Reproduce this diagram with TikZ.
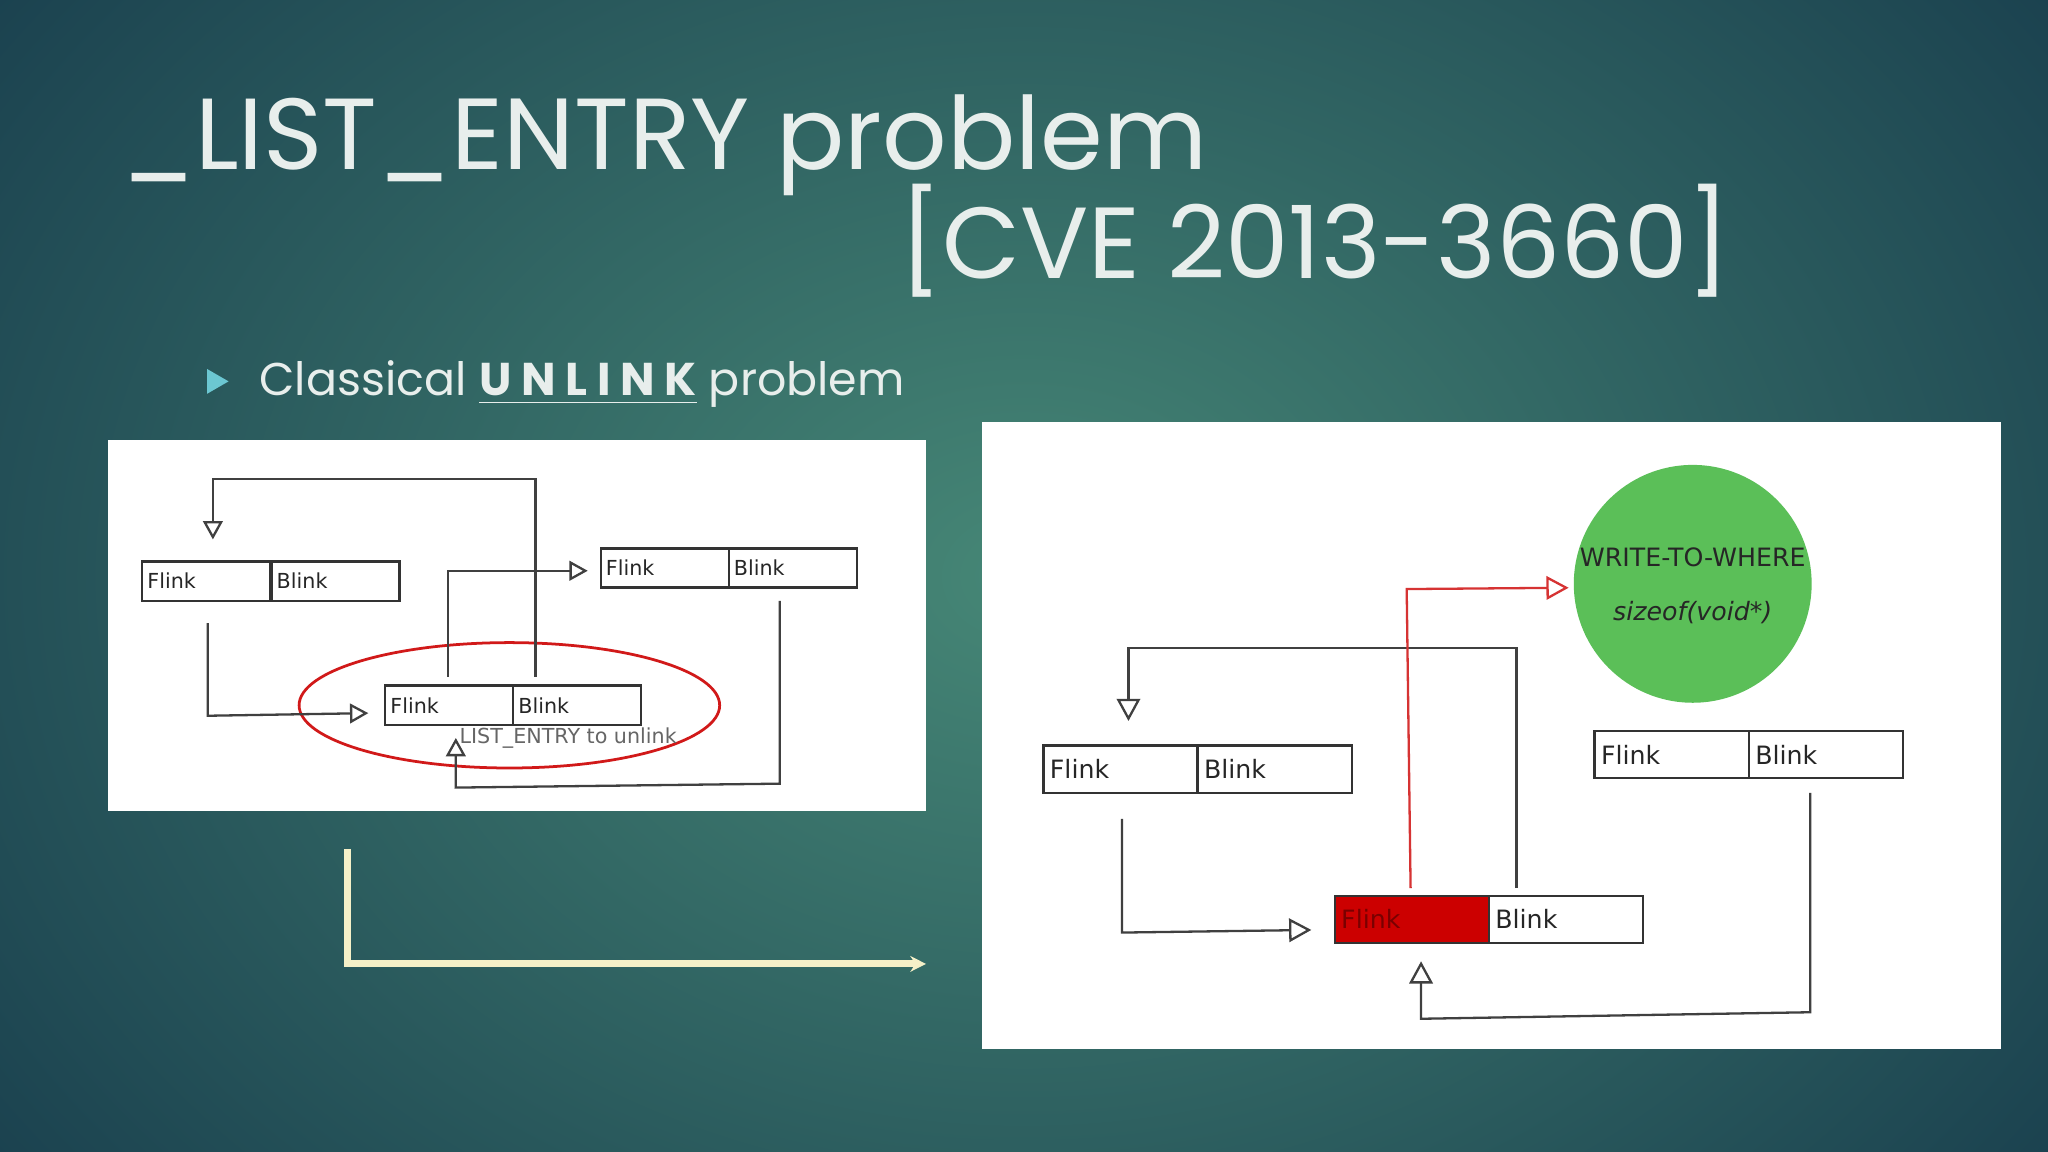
\documentclass[tikz,border=0pt]{standalone}
\usepackage{fontspec}
\setmainfont{Poppins}
\newfontfamily\boxfont{DejaVu Sans}
\usetikzlibrary{arrows.meta,shapes.geometric}
\definecolor{ttl}{HTML}{E8EEEC}
\definecolor{cyanb}{HTML}{6CC7D2}
\definecolor{grn}{HTML}{5BBF58}
\definecolor{redb}{HTML}{CC0000}
\tikzset{
  cell/.style={draw=black!80,line width=0.5pt,minimum width=0.98cm,minimum height=0.30cm,inner sep=0pt,font=\boxfont\fontsize{4.5pt}{5pt}\selectfont,text=black!85},
  cellb/.style={cell,minimum width=1.18cm,minimum height=0.36cm,font=\boxfont\fontsize{5.5pt}{6pt}\selectfont},
  wire/.style={draw=black!75,line width=0.5pt},
  tri/.style={-{Triangle[open,length=0.14cm,width=0.15cm]}},
  trib/.style={-{Triangle[open,length=0.17cm,width=0.18cm]}},
}
\begin{document}
\begin{tikzpicture}[x=0.01cm,y=-0.01cm]
\useasboundingbox (0,0) rectangle (1568,882);
\shade[inner color={rgb,255:red,70;green,135;blue,118},outer color={rgb,255:red,22;green,58;blue,75}] (-300,-400) rectangle (1868,1282);
% title
\node[anchor=base west,text=ttl,font=\fontsize{22pt}{24pt}\selectfont,inner sep=0] (t1) at (92,130) {\_LIST\_ENTRY problem};
\node[anchor=base west,text=ttl,font=\fontsize{22pt}{24pt}\selectfont,inner sep=0] (t2) at (688,213) {[CVE 2013-3660]};
\node[fill=cyanb,regular polygon,regular polygon sides=3,shape border rotate=-90,minimum size=0.22cm,inner sep=0] (bul) at (164,292) {};
\node[anchor=base west,text=ttl,font=\fontsize{10pt}{12pt}\selectfont,inner sep=0] (t3) at (198,303) {Classical \underline{\textbf{U N L I N K}} problem};
% panels
\fill[white] (83,337) rectangle (709,621);
\fill[white] (752,323) rectangle (1532,803);
% left panel
\node[cell,anchor=north west,text width=0.9cm,align=left] (lf1) at (108,429) {Flink};
\node[cell,anchor=north west,text width=0.9cm,align=left] (lb1) at (207,429) {Blink};
\node[cell,anchor=north west,text width=0.9cm,align=left] (lf2) at (459,419) {Flink};
\node[cell,anchor=north west,text width=0.9cm,align=left] (lb2) at (557,419) {Blink};
\node[cell,anchor=north west,text width=0.9cm,align=left] (lf3) at (294,524) {Flink};
\node[cell,anchor=north west,text width=0.9cm,align=left] (lb3) at (392,524) {Blink};
\draw[redb!90,line width=0.6pt] (390,540) ellipse [x radius=161,y radius=48];
\node[font=\boxfont\fontsize{4.5pt}{5pt}\selectfont,text=black!60] (lbl) at (435,565) {LIST\_ENTRY to unlink};
\coordinate (a1) at (410,518);
\draw[wire,tri] (a1) -- (410,367) -- (163,367) -- (163,413);
\coordinate (a2) at (159,477);
\draw[wire,tri] (a2) -- (159,548) -- (282,546);
\coordinate (a3) at (343,518);
\draw[wire,tri] (a3) -- (343,437) -- (450,437);
\coordinate (a4) at (597,460);
\draw[wire,tri] (a4) -- (597,600) -- (349,603) -- (349,565);
% big arrow
\coordinate (b1) at (266,650);
\coordinate (b2) at (709,738);
\draw[draw={rgb,255:red,245;green,240;blue,200},line width=1.5pt,-{Stealth[length=0.12cm,width=0.12cm]}] (b1) -- (266,738) -- (b2);
% right panel
\node[fill=grn,circle,minimum size=1.82cm,inner sep=0] (g) at (1296,447) {};
\node[font=\boxfont\fontsize{5.5pt}{6pt}\selectfont,text=black!85] (w1) at (1296,427) {WRITE-TO-WHERE};
\node[font=\boxfont\itshape\fontsize{5.5pt}{6pt}\selectfont,text=black!85] (w2) at (1296,469) {sizeof(void*)};
\node[cellb,anchor=north west,text width=1.08cm,align=left] (rf1) at (798,570) {Flink};
\node[cellb,anchor=north west,text width=1.08cm,align=left] (rb1) at (916,570) {Blink};
\node[cellb,anchor=north west,text width=1.08cm,align=left] (rf2) at (1220,559) {Flink};
\node[cellb,anchor=north west,text width=1.08cm,align=left] (rb2) at (1338,559) {Blink};
\node[cellb,anchor=north west,text width=1.08cm,align=left,fill=redb,text=redb!60!black] (rf3) at (1021,685) {Flink};
\node[cellb,anchor=north west,text width=1.08cm,align=left] (rb3) at (1139,685) {Blink};
\coordinate (c1) at (1161,680);
\draw[wire,trib] (c1) -- (1161,496) -- (864,496) -- (864,552);
\coordinate (c2) at (859,627);
\draw[wire,trib] (c2) -- (859,714) -- (1004,712);
\coordinate (c3) at (1080,680);
\draw[draw=redb!80,line width=0.5pt,-{Triangle[open,length=0.17cm,width=0.18cm]}] (c3) -- (1077,451) -- (1201,450);
\coordinate (c4) at (1386,607);
\draw[wire,trib] (c4) -- (1386,775) -- (1088,780) -- (1088,736);
\end{tikzpicture}
\end{document}
